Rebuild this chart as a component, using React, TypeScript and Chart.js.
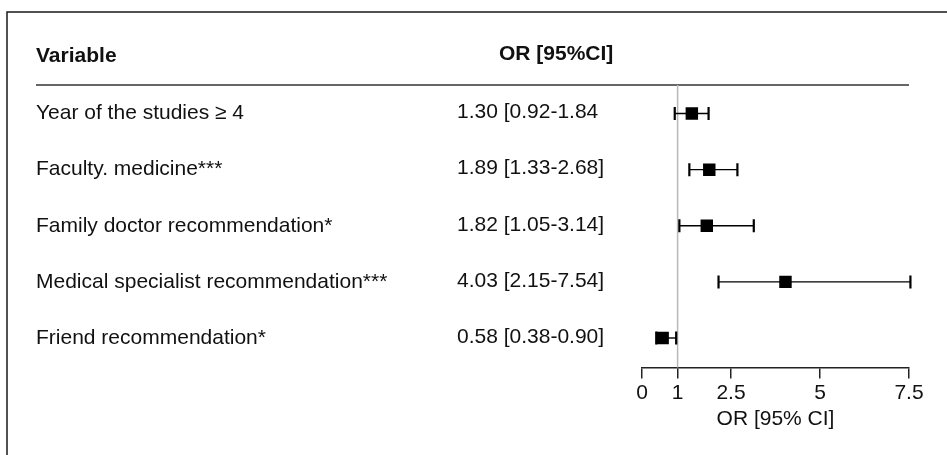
import React, { useEffect, useRef } from "react";
import { Chart, registerables } from "chart.js";

Chart.register(...registerables);

const variables = [
  "Year of the studies \u2265 4",
  "Faculty. medicine***",
  "Family doctor recommendation*",
  "Medical specialist recommendation***",
  "Friend recommendation*",
];
const orLabels = [
  "1.30 [0.92-1.84",
  "1.89 [1.33-2.68]",
  "1.82 [1.05-3.14]",
  "4.03 [2.15-7.54]",
  "0.58 [0.38-0.90]",
];
const oddsRatios = [1.4, 1.89, 1.82, 4.03, 0.58];
const lowerCI = [0.92, 1.33, 1.05, 2.15, 0.4];
const upperCI = [1.87, 2.68, 3.14, 7.54, 0.96];
const tickValues = [0, 1, 2.5, 5, 7.5];
const referenceValue = 1;
const headerVariable = "Variable";
const headerOR = "OR [95%CI]";
const axisTitle = "OR [95% CI]";

const FONT = "'Liberation Sans', Arial, Helvetica, sans-serif";

const forestPlugin = {
  id: "forest",
  beforeDatasetsDraw(chart: any) {
    const { ctx, chartArea, scales } = chart;
    const xs = scales.x;
    const ys = scales.y;
    ctx.save();
    // frame
    ctx.strokeStyle = "#1a1a1a";
    ctx.lineWidth = 1.5;
    ctx.beginPath();
    ctx.moveTo(7, 455);
    ctx.lineTo(7, 12);
    ctx.lineTo(947, 12);
    ctx.stroke();
    // header line
    ctx.strokeStyle = "#333";
    ctx.lineWidth = 1.5;
    ctx.beginPath();
    ctx.moveTo(36, chartArea.top);
    ctx.lineTo(chartArea.right, chartArea.top);
    ctx.stroke();
    // headers
    ctx.fillStyle = "#111";
    ctx.font = `bold 21px ${FONT}`;
    ctx.textBaseline = "middle";
    ctx.textAlign = "left";
    ctx.fillText(headerVariable, 36, 56);
    ctx.fillText(headerOR, 499, 54);
    // reference line
    const rx = xs.getPixelForValue(referenceValue);
    ctx.strokeStyle = "#b8b8b8";
    ctx.lineWidth = 1.5;
    ctx.beginPath();
    ctx.moveTo(rx, chartArea.top);
    ctx.lineTo(rx, chartArea.bottom);
    ctx.stroke();
    // row texts
    ctx.font = `21px ${FONT}`;
    ctx.fillStyle = "#111";
    variables.forEach((v, i) => {
      const y = ys.getPixelForValue(i);
      ctx.fillText(v, 36, y);
      ctx.fillText(orLabels[i], 457, y - 1);
    });
    // error bars
    ctx.strokeStyle = "#000";
    lowerCI.forEach((lo, i) => {
      const y = ys.getPixelForValue(i);
      const x1 = xs.getPixelForValue(lo);
      const x2 = xs.getPixelForValue(upperCI[i]);
      ctx.lineWidth = 1.4;
      ctx.beginPath();
      ctx.moveTo(x1, y);
      ctx.lineTo(x2, y);
      ctx.stroke();
      ctx.lineWidth = 2.2;
      ctx.beginPath();
      ctx.moveTo(x1, y - 6.5);
      ctx.lineTo(x1, y + 6.5);
      ctx.moveTo(x2, y - 6.5);
      ctx.lineTo(x2, y + 6.5);
      ctx.stroke();
    });
    ctx.restore();
  },
};

export default function App() {
  const ref = useRef<HTMLCanvasElement | null>(null);
  useEffect(() => {
    document.body.style.margin = "0";
    if (!ref.current) return;
    const chart = new Chart(ref.current, {
      type: "scatter",
      data: {
        datasets: [
          {
            data: oddsRatios.map((v, i) => ({ x: v, y: i })),
            pointStyle: "rect",
            radius: 8.8,
            backgroundColor: "#000",
            borderColor: "#000",
            borderWidth: 0,
          },
        ],
      },
      options: {
        animation: false,
        responsive: false,
        maintainAspectRatio: false,
        layout: { padding: { left: 642, right: 38, top: 85, bottom: 25.5 } },
        plugins: { legend: { display: false }, tooltip: { enabled: false } },
        scales: {
          x: {
            type: "linear",
            min: 0,
            max: 7.5,
            afterBuildTicks: (scale: any) => {
              scale.ticks = tickValues.map((v) => ({ value: v }));
            },
            grid: {
              drawOnChartArea: false,
              drawTicks: true,
              tickLength: 11,
              color: "#222",
              lineWidth: 1.5,
            },
            border: { display: true, color: "#222", width: 1.5 },
            ticks: {
              color: "#111",
              padding: 4.5,
              maxRotation: 0,
              autoSkip: false,
              font: { family: FONT, size: 21, lineHeight: 1 },
              callback: (v: any) => String(v),
            },
            title: {
              display: true,
              text: axisTitle,
              color: "#111",
              padding: { top: 0, bottom: 0 },
              font: { family: FONT, size: 21, lineHeight: 1 },
            },
          },
          y: {
            type: "linear",
            display: false,
            reverse: true,
            min: -0.509,
            max: 4.526,
          },
        },
      },
      plugins: [forestPlugin],
    });
    return () => chart.destroy();
  }, []);
  return (
    <div style={{ position: "absolute", left: 0, top: 0, width: 947, height: 455, background: "#fff" }}>
      <canvas ref={ref} width={947} height={455} style={{ width: 947, height: 455, display: "block" }} />
    </div>
  );
}
